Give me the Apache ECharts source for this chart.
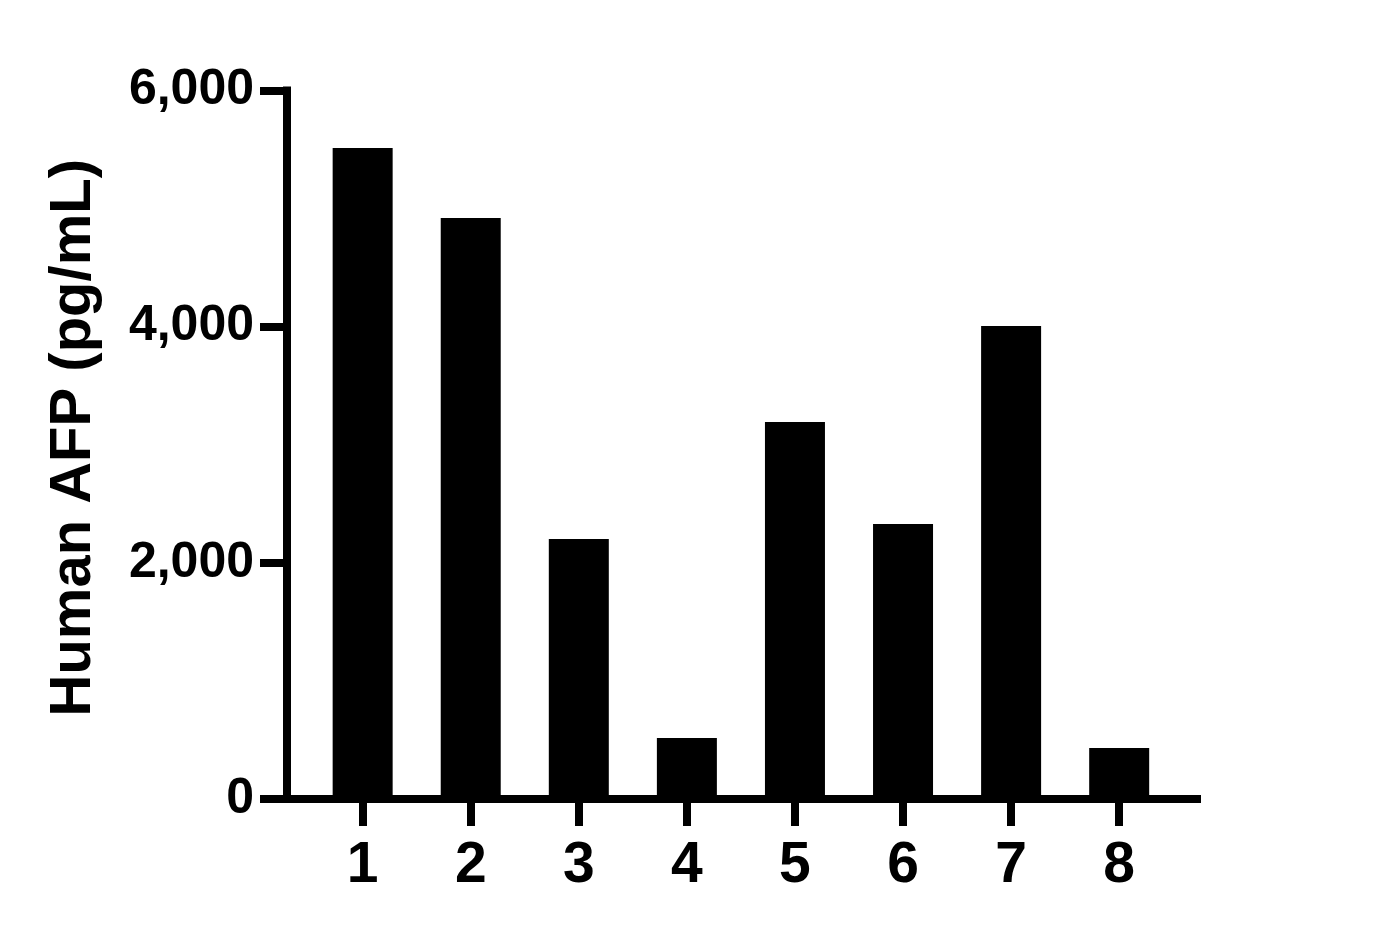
<!DOCTYPE html>
<html>
<head>
<meta charset="utf-8">
<script src="https://cdn.jsdelivr.net/npm/echarts@6/dist/echarts.min.js"></script>
<style>
html,body{margin:0;padding:0;background:#fff;}
#chart{width:1378px;height:939px;}
</style>
</head>
<body>
<div id="chart"></div>
<script>
const categories = [1, 2, 3, 4, 5, 6, 7, 8];
const afpValues = [5513, 4920, 2202, 517, 3193, 2329, 4006, 432];
const yTicks = [0, 2000, 4000, 6000];
const yAxisTitle = 'Human AFP (pg/mL)';

const FONT = '"Liberation Sans", Arial, sans-serif';
const chart = echarts.init(document.getElementById('chart'), null, {renderer: 'canvas'});
chart.setOption({
  backgroundColor: '#fff',
  animation: false,
  grid: {left: 287, right: 181, top: 90.5, bottom: 140, containLabel: false},
  xAxis: {
    type: 'value',
    min: 0.3,
    max: 8.72,
    splitLine: {show: false},
    axisLine: {show: true, lineStyle: {color: '#000', width: 8, cap: 'square'}},
    axisTick: {show: true, customValues: categories, length: 27, lineStyle: {color: '#000', width: 8}},
    axisLabel: {show: true, customValues: categories, margin: 39, color: '#000',
      fontFamily: FONT, fontWeight: 'bold', fontSize: 57,
      formatter: v => String(v)}
  },
  yAxis: {
    type: 'value',
    min: 0,
    max: 6000,
    interval: 2000,
    name: yAxisTitle,
    nameLocation: 'middle',
    nameGap: 184,
    nameTextStyle: {color: '#000', fontFamily: FONT, fontWeight: 'bold', fontSize: 58,
      padding: [0, 0, 0, 14]},
    splitLine: {show: false},
    axisLine: {show: true, lineStyle: {color: '#000', width: 8, cap: 'square'}},
    axisTick: {show: true, customValues: yTicks, length: 27, lineStyle: {color: '#000', width: 8}},
    axisLabel: {show: true, margin: 33, color: '#000',
      fontFamily: FONT, fontWeight: 'bold', fontSize: 50,
      formatter: v => v.toLocaleString('en-US')}
  },
  series: [{
    type: 'bar',
    data: categories.map((c, i) => [c, afpValues[i]]),
    barWidth: 60,
    itemStyle: {color: '#000'},
    z: 1
  }]
});
</script>
</body>
</html>
